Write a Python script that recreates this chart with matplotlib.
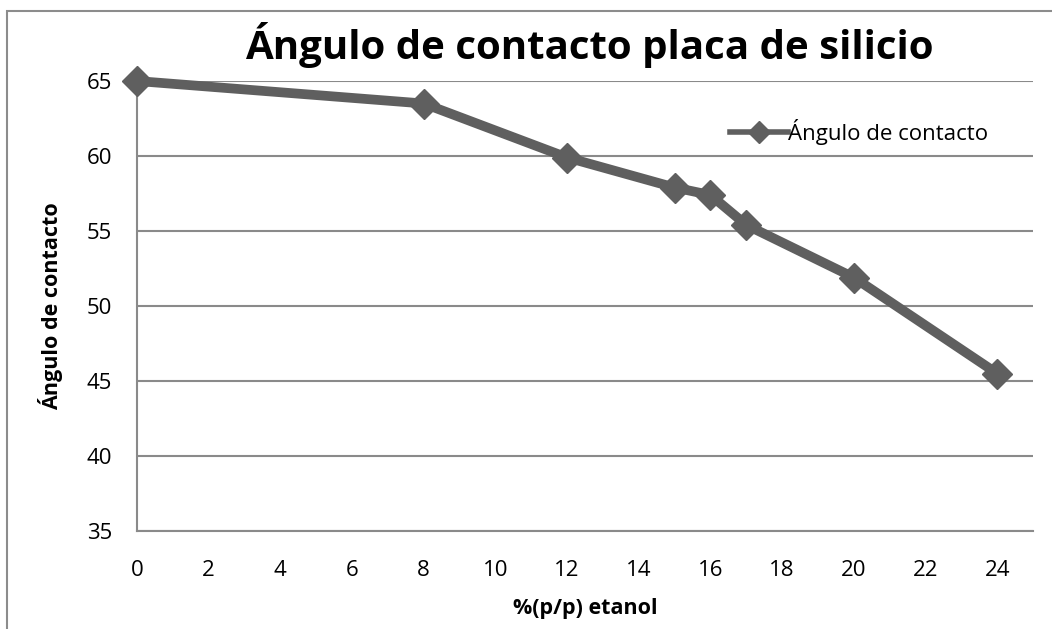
import matplotlib.pyplot as plt
from matplotlib.patches import Rectangle

# %(p/p) etanol vs. ángulo de contacto
etanol = [0, 8, 12, 15, 16, 17, 20, 24]
angulo = [65.0, 63.5, 59.9, 57.9, 57.4, 55.4, 51.9, 45.5]
x_ticks = list(range(0, 25, 2))
y_ticks = [35, 40, 45, 50, 55, 60, 65]

plt.rcParams['font.family'] = ['Open Sans', 'DejaVu Sans']

fig = plt.figure(figsize=(10.52, 6.29), dpi=100)
ax = fig.add_axes([0.1302, 0.1558, 0.8518, 0.7154])

# chart frame (runs off the right and bottom edges)
fig.patches.append(Rectangle((7 / 1052, -0.05), 1.2, 1 - 11 / 629 + 0.05,
                             transform=fig.transFigure, fill=False,
                             edgecolor='#8c8c8c', linewidth=1.5))

line_color = '#5f5f5f'
ax.plot(etanol, angulo, color=line_color, linewidth=7, marker='D',
        markersize=15, markerfacecolor=line_color, markeredgecolor=line_color,
        label='Ángulo de contacto', clip_on=False, zorder=3)

ax.set_xlim(0, 25)
ax.set_ylim(35, 65)
ax.set_xticks(x_ticks)
ax.set_yticks(y_ticks)
ax.tick_params(axis='both', length=0, labelsize=16)
ax.tick_params(axis='y', pad=18)
ax.tick_params(axis='x', pad=21)

ax.grid(axis='y', color='#8a8a8a', linewidth=1.5)
ax.set_axisbelow(True)
for side in ['top', 'right']:
    ax.spines[side].set_visible(False)
for side in ['left', 'bottom']:
    ax.spines[side].set_color('#8a8a8a')
    ax.spines[side].set_linewidth(1.5)

ax.set_xlabel('%(p/p) etanol', fontsize=15.5, fontweight='bold', labelpad=12)
ax.set_ylabel('Ángulo de contacto', fontsize=15.5, fontweight='bold', labelpad=17)
fig.text(0.56, 0.928, 'Ángulo de contacto placa de silicio', fontsize=29,
         fontweight='bold', ha='center', va='center')

leg = ax.legend(loc='upper right', bbox_to_anchor=(0.962, 0.94), frameon=False,
                fontsize=16, handlelength=2.6, handletextpad=0.0,
                borderpad=0)
for h in leg.legend_handles:
    h.set_linewidth(4)
    h.set_markersize(11)

fig.savefig('out.png', dpi=100)
